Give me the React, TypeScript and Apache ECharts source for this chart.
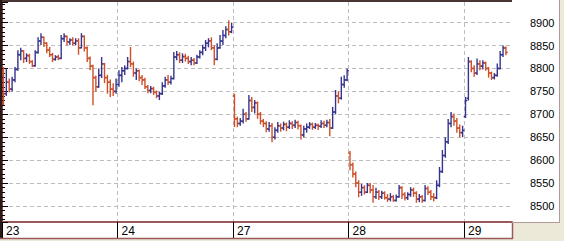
import React, { useEffect, useRef } from "react";
import * as echarts from "echarts";

// Trading days shown on the x axis (40 intraday bars per day)
const DAYS = ["23", "24", "27", "28", "29"];
const BARS_PER_DAY = 40;

// Y axis range and tick labels
const Y_MIN = 8465;
const Y_MAX = 8945;
const Y_TICKS = [8500, 8550, 8600, 8650, 8700, 8750, 8800, 8850, 8900];

// Each bar: [open, close, low, high]
const day23: number[][] = [
  [8790, 8745, 8720, 8803], [8745, 8770, 8740, 8800], [8770, 8755, 8748, 8778], [8755, 8775, 8750, 8782],
  [8775, 8798, 8770, 8803], [8798, 8830, 8795, 8840], [8830, 8838, 8818, 8845], [8838, 8822, 8812, 8840],
  [8822, 8828, 8814, 8833], [8828, 8815, 8810, 8832], [8815, 8806, 8803, 8818], [8806, 8835, 8804, 8840],
  [8835, 8860, 8832, 8868], [8860, 8868, 8851, 8877], [8868, 8855, 8847, 8870], [8855, 8840, 8833, 8857],
  [8840, 8830, 8825, 8847], [8830, 8820, 8814, 8834], [8820, 8825, 8817, 8829], [8825, 8822, 8818, 8830],
  [8822, 8865, 8820, 8873], [8865, 8870, 8858, 8877], [8870, 8858, 8850, 8872], [8858, 8862, 8851, 8866],
  [8862, 8855, 8850, 8868], [8855, 8860, 8851, 8866], [8860, 8845, 8830, 8866], [8845, 8870, 8844, 8877],
  [8870, 8845, 8837, 8872], [8845, 8822, 8814, 8848], [8822, 8805, 8796, 8826], [8805, 8780, 8720, 8808],
  [8780, 8760, 8749, 8784], [8760, 8785, 8758, 8800], [8785, 8810, 8779, 8825], [8810, 8780, 8768, 8812],
  [8780, 8770, 8745, 8786], [8770, 8755, 8738, 8776], [8755, 8750, 8740, 8768], [8750, 8765, 8745, 8778],
];

const day24: number[][] = [
  [8765, 8785, 8760, 8796], [8785, 8795, 8770, 8803], [8795, 8800, 8786, 8807], [8800, 8815, 8798, 8825],
  [8815, 8810, 8803, 8847], [8810, 8790, 8782, 8815], [8790, 8795, 8775, 8800], [8795, 8780, 8772, 8798],
  [8780, 8775, 8764, 8786], [8775, 8760, 8755, 8780], [8760, 8752, 8746, 8764], [8752, 8756, 8746, 8762],
  [8756, 8748, 8742, 8760], [8748, 8740, 8735, 8752], [8740, 8745, 8731, 8749], [8745, 8762, 8742, 8770],
  [8762, 8775, 8758, 8782], [8775, 8770, 8764, 8786], [8770, 8778, 8765, 8784], [8778, 8825, 8776, 8836],
  [8825, 8830, 8818, 8838], [8830, 8818, 8812, 8835], [8818, 8826, 8812, 8833], [8826, 8822, 8815, 8832],
  [8822, 8815, 8810, 8828], [8815, 8818, 8807, 8825], [8818, 8812, 8807, 8823], [8812, 8825, 8810, 8830],
  [8825, 8835, 8822, 8840], [8835, 8845, 8829, 8852], [8845, 8855, 8838, 8862], [8855, 8860, 8846, 8866],
  [8860, 8845, 8840, 8868], [8845, 8820, 8807, 8850], [8820, 8845, 8818, 8855], [8845, 8860, 8843, 8873],
  [8860, 8872, 8851, 8884], [8872, 8885, 8866, 8892], [8885, 8880, 8872, 8905], [8880, 8890, 8877, 8900],
];

const day27: number[][] = [
  [8740, 8690, 8672, 8745], [8690, 8680, 8672, 8695], [8680, 8685, 8675, 8692], [8685, 8700, 8680, 8712],
  [8700, 8690, 8684, 8705], [8690, 8730, 8688, 8742], [8730, 8715, 8705, 8738], [8715, 8725, 8702, 8731],
  [8725, 8700, 8690, 8728], [8700, 8685, 8678, 8705], [8685, 8680, 8672, 8690], [8680, 8668, 8661, 8685],
  [8668, 8675, 8662, 8683], [8675, 8650, 8639, 8681], [8650, 8665, 8645, 8672], [8665, 8675, 8660, 8683],
  [8675, 8670, 8662, 8680], [8670, 8678, 8665, 8684], [8678, 8672, 8663, 8682], [8672, 8680, 8668, 8687],
  [8680, 8676, 8668, 8685], [8676, 8682, 8670, 8688], [8682, 8675, 8667, 8686], [8675, 8655, 8645, 8678],
  [8655, 8668, 8650, 8675], [8668, 8672, 8660, 8680], [8672, 8678, 8668, 8683], [8678, 8672, 8666, 8682],
  [8672, 8676, 8668, 8681], [8676, 8674, 8666, 8680], [8674, 8680, 8670, 8687], [8680, 8676, 8670, 8686],
  [8676, 8682, 8672, 8688], [8682, 8670, 8652, 8690], [8670, 8705, 8668, 8716], [8705, 8740, 8700, 8753],
  [8740, 8735, 8724, 8750], [8735, 8765, 8732, 8782], [8765, 8775, 8758, 8785], [8775, 8795, 8772, 8800],
];

const day28: number[][] = [
  [8615, 8590, 8578, 8620], [8590, 8570, 8562, 8595], [8570, 8550, 8541, 8575], [8550, 8530, 8519, 8556],
  [8530, 8540, 8522, 8548], [8540, 8530, 8525, 8545], [8530, 8545, 8528, 8550], [8545, 8535, 8528, 8550],
  [8535, 8520, 8507, 8546], [8520, 8530, 8515, 8540], [8530, 8520, 8513, 8535], [8520, 8528, 8515, 8533],
  [8528, 8518, 8514, 8532], [8518, 8515, 8509, 8526], [8515, 8520, 8510, 8528], [8520, 8512, 8509, 8524],
  [8512, 8520, 8510, 8525], [8520, 8540, 8518, 8546], [8540, 8525, 8515, 8543], [8525, 8518, 8512, 8530],
  [8518, 8525, 8513, 8530], [8525, 8535, 8520, 8541], [8535, 8528, 8520, 8540], [8528, 8515, 8507, 8532],
  [8515, 8520, 8508, 8526], [8520, 8512, 8507, 8524], [8512, 8538, 8510, 8546], [8538, 8530, 8524, 8543],
  [8530, 8520, 8513, 8535], [8520, 8518, 8510, 8528], [8518, 8545, 8515, 8556], [8545, 8575, 8541, 8585],
  [8575, 8610, 8572, 8622], [8610, 8640, 8605, 8650], [8640, 8680, 8635, 8690], [8680, 8695, 8672, 8705],
  [8695, 8685, 8675, 8702], [8685, 8670, 8660, 8692], [8670, 8660, 8650, 8678], [8660, 8665, 8650, 8675],
];

const day29: number[][] = [
  [8695, 8730, 8692, 8738], [8735, 8815, 8730, 8825], [8815, 8800, 8792, 8818], [8800, 8790, 8782, 8807],
  [8790, 8810, 8786, 8822], [8810, 8805, 8796, 8818], [8805, 8812, 8798, 8818], [8812, 8800, 8795, 8815],
  [8800, 8790, 8780, 8803], [8790, 8780, 8775, 8793], [8780, 8785, 8776, 8790], [8785, 8800, 8782, 8811],
  [8800, 8830, 8798, 8838], [8830, 8845, 8825, 8850], [8845, 8835, 8829, 8848],
];

const SESSIONS = [day23, day24, day27, day28, day29];

const BLUE = "#35358f";
const RED = "#cf4f28";
const FONT = "'Liberation Sans', Arial, sans-serif";

export default function App() {
  const ref = useRef<HTMLDivElement>(null);

  useEffect(() => {
    document.body.style.margin = "0";
    if (!ref.current) return;
    const chart = echarts.init(ref.current, null, { renderer: "svg" });

    const data: number[][] = [];
    SESSIONS.forEach((bars, d) => {
      bars.forEach((b, j) => {
        data.push([d * BARS_PER_DAY + j + 0.5, b[0], b[1], b[2], b[3]]);
      });
    });

    const dash = [4, 3];

    chart.setOption({
      animation: false,
      backgroundColor: "#ece9d8",
      graphic: [
        { type: "rect", z: -10, shape: { x: 0, y: 0, width: 512, height: 239 }, style: { fill: "#ffffff" } },
        { type: "rect", z: -10, shape: { x: 512, y: 0, width: 48, height: 222 }, style: { fill: "#ffffff" } },
        { type: "line", z: 10, shape: { x1: 0, y1: 1, x2: 512, y2: 1 }, style: { stroke: "#4a3434", lineWidth: 2 } },
        { type: "line", z: 10, shape: { x1: 1, y1: 0, x2: 1, y2: 239 }, style: { stroke: "#2a1a1a", lineWidth: 2 } },
        { type: "line", z: 10, shape: { x1: 0, y1: 238.5, x2: 513, y2: 238.5 }, style: { stroke: "#9a5a5a", lineWidth: 1.5 } },
        { type: "line", z: 10, shape: { x1: 512.5, y1: 222, x2: 512.5, y2: 239 }, style: { stroke: "#9a5a5a", lineWidth: 1.5 } },
        { type: "line", z: 10, shape: { x1: 512, y1: 222.5, x2: 560, y2: 222.5 }, style: { stroke: "#b09a9a", lineWidth: 1 } },
        { type: "line", z: 10, shape: { x1: 559.5, y1: 0, x2: 559.5, y2: 223 }, style: { stroke: "#b09a9a", lineWidth: 1 } },
      ],
      grid: { left: 2, top: 2, width: 510, height: 220, containLabel: false },
      xAxis: {
        type: "value",
        min: 0,
        max: 176.6,
        minInterval: 40,
        maxInterval: 40,
        position: "bottom",
        axisLine: { show: true, onZero: false, lineStyle: { color: "#9a5a5a", width: 2 } },
        axisTick: { show: true, length: 16, lineStyle: { color: "#000000", width: 1 } },
        axisLabel: {
          formatter: (v: number) => (Math.abs(v % BARS_PER_DAY) < 1e-6 ? DAYS[Math.round(v / BARS_PER_DAY)] ?? "" : ""),
          align: "left",
          verticalAlign: "top",
          margin: 3,
          padding: [0, 0, 0, 4],
          color: "#000000",
          fontSize: 12,
          fontFamily: FONT,
          showMaxLabel: false,
        },
        splitLine: { show: true, showMinLine: false, showMaxLine: false, lineStyle: { color: "#bdbdbd", type: dash, width: 1 } },
      },
      yAxis: {
        type: "value",
        position: "right",
        min: Y_MIN,
        max: Y_MAX,
        minInterval: 50,
        maxInterval: 50,
        axisLine: { show: true, lineStyle: { color: "#8a4a4a", width: 2 } },
        axisTick: { show: true, length: 6, lineStyle: { color: "#000000", width: 1 } },
        minorTick: { show: true, splitNumber: 5, length: 3, lineStyle: { color: "#000000", width: 1 } },
        axisLabel: {
          showMinLabel: false,
          showMaxLabel: false,
          margin: 18,
          color: "#000000",
          fontSize: 11,
          fontFamily: FONT,
          formatter: (v: number) => (Y_TICKS.indexOf(v) >= 0 ? String(v) : ""),
        },
        splitLine: { show: true, showMinLine: false, showMaxLine: false, lineStyle: { color: "#bdbdbd", type: dash, width: 1 } },
      },
      series: [
        {
          type: "custom",
          clip: true,
          encode: { x: 0, y: [1, 2, 3, 4] },
          data,
          renderItem: (_params: any, api: any) => {
            const x = api.value(0);
            const o = api.value(1);
            const c = api.value(2);
            const l = api.value(3);
            const h = api.value(4);
            const pH = api.coord([x, h]);
            const pL = api.coord([x, l]);
            const pO = api.coord([x, o]);
            const pC = api.coord([x, c]);
            const color = c >= o ? BLUE : RED;
            const st = { stroke: color, lineWidth: 1.4 };
            const tk = { stroke: color, lineWidth: 1.6 };
            return {
              type: "group",
              children: [
                { type: "line", shape: { x1: pH[0], y1: pH[1], x2: pL[0], y2: pL[1] }, style: st },
                { type: "line", shape: { x1: pO[0] - 1.8, y1: pO[1], x2: pO[0], y2: pO[1] }, style: tk },
                { type: "line", shape: { x1: pC[0], y1: pC[1], x2: pC[0] + 1.8, y2: pC[1] }, style: tk },
              ],
            };
          },
        },
      ],
    });

    return () => chart.dispose();
  }, []);

  return <div ref={ref} style={{ width: 564, height: 241 }} />;
}
